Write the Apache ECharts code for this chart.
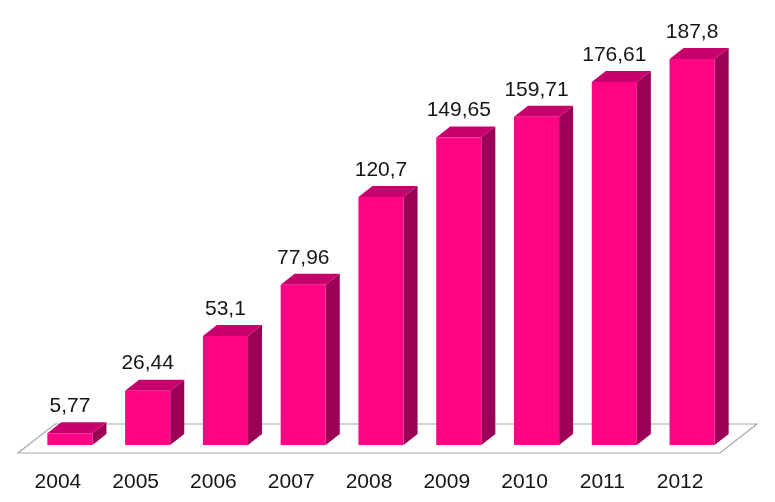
<!DOCTYPE html>
<html>
<head>
<meta charset="utf-8">
<script src="https://cdn.jsdelivr.net/npm/echarts@6/dist/echarts.min.js"></script>
<style>html,body{margin:0;padding:0;background:#fff;}#c{width:775px;height:502px;}</style>
</head>
<body>
<div id="c"></div>
<script>
var categories = ['2004','2005','2006','2007','2008','2009','2010','2011','2012'];
var values = [5.77, 26.44, 53.1, 77.96, 120.7, 149.65, 159.71, 176.61, 187.8];
var valueLabels = ['5,77','26,44','53,1','77,96','120,7','149,65','159,71','176,61','187,8'];

var FRONT = '#FF0585', TOP = '#C8006E', SIDE = '#9A0056';
var DX = 14, DY = -11;
var FONT = 'Liberation Sans';

var chart = echarts.init(document.getElementById('c'));
chart.setOption({
  animation: false,
  backgroundColor: '#fff',
  grid: {left: 31, right: 44, top: 34, bottom: 57},
  xAxis: {
    type: 'category', data: categories,
    axisLine: {show: false}, axisTick: {show: false},
    axisLabel: {color: '#151515', fontSize: 21, fontFamily: FONT, margin: 27, padding: [0, 24, 0, 0]}
  },
  yAxis: {type: 'value', min: 0, max: 200, show: false, splitLine: {show: false}},
  series: [
    {
      type: 'custom',
      data: [[0, 0]],
      z: 1,
      renderItem: function (params, api) {
        var c0 = api.coord([0, 0]);
        var c8 = api.coord([categories.length - 1, 0]);
        var band = api.size([1, 0])[0];
        var L = c0[0] - band / 2, R = c8[0] + band / 2, y0 = c0[1];
        return {
          type: 'polygon',
          shape: {points: [[L - 13, y0 + 8], [R - 11, y0 + 8], [R + 26, y0 - 21], [L + 24, y0 - 21]]},
          style: {fill: '#fff', stroke: '#a8a8a8', lineWidth: 1.2}
        };
      }
    },
    {
      type: 'custom',
      z: 2,
      data: values.map(function (v, i) { return [i, v]; }),
      renderItem: function (params, api) {
        var i = api.value(0), v = api.value(1);
        var top = api.coord([i, v]);
        var bot = api.coord([i, 0]);
        var w = api.size([1, 0])[0] * 0.58;
        var x1 = top[0] - w / 2, x2 = top[0] + w / 2, yt = top[1], yb = bot[1];
        return {
          type: 'group',
          children: [
            {type: 'polygon', shape: {points: [[x2, yt], [x2 + DX, yt + DY], [x2 + DX, yb + DY], [x2, yb]]}, style: {fill: SIDE}},
            {type: 'polygon', shape: {points: [[x1, yt], [x1 + DX, yt + DY], [x2 + DX, yt + DY], [x2, yt]]}, style: {fill: TOP}},
            {type: 'rect', shape: {x: x1, y: yt, width: w, height: yb - yt}, style: {fill: FRONT}},
            {type: 'text', x: top[0], y: yt - 27, style: {text: valueLabels[params.dataIndex], fill: '#151515', fontSize: 21, fontFamily: FONT, align: 'center', verticalAlign: 'middle'}}
          ]
        };
      }
    }
  ]
});
</script>
</body>
</html>
